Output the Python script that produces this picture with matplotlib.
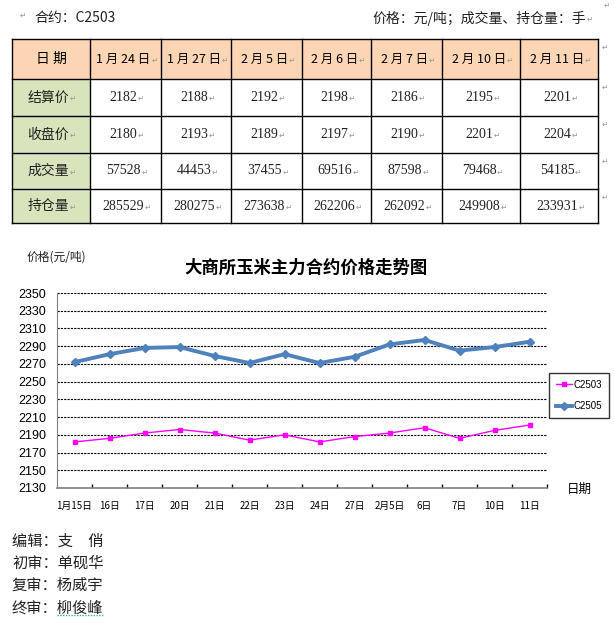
import matplotlib.pyplot as plt
from matplotlib.patches import Rectangle

plt.rcParams['font.family'] = ['Noto Sans CJK SC', 'DejaVu Sans']

# table data
tbl_dates = ['1月24日', '1月27日', '2月5日', '2月6日', '2月7日', '2月10日', '2月11日']
row_names = ['结算价', '收盘价', '成交量', '持仓量']
settle = [2182, 2188, 2192, 2198, 2186, 2195, 2201]
close = [2180, 2193, 2189, 2197, 2190, 2201, 2204]
volume = [57528, 44453, 37455, 69516, 87598, 79468, 54185]
oi = [285529, 280275, 273638, 262206, 262092, 249908, 233931]

# chart data
days = ['1月15日', '16日', '17日', '20日', '21日', '22日', '23日', '24日', '27日',
        '2月5日', '6日', '7日', '10日', '11日']
c2503 = [2182, 2186, 2192, 2196, 2192, 2184, 2190, 2182, 2188, 2192, 2198, 2186, 2195, 2201]
c2505 = [2272, 2281, 2288, 2289, 2279, 2271, 2281, 2271, 2278, 2292, 2297, 2285, 2289, 2295]
yticks = list(range(2130, 2351, 20))

W, H = 614, 624
fig = plt.figure(figsize=(W / 100, H / 100), dpi=100)

# overlay in pixel coords for table and texts
ov = fig.add_axes([0, 0, 1, 1])
ov.set_xlim(0, W)
ov.set_ylim(H, 0)
ov.axis('off')

mark = dict(color='#999999', fontsize=5.5, family=['DejaVu Sans'])
marked = []  # texts followed by a paragraph mark

ov.text(20, 15, '↵', ha='left', va='center', **mark)
ov.text(34, 18, '合约：C2503', ha='left', va='center', fontsize=10, color='#222222')
marked.append(ov.text(586, 18, '价格：元/吨；成交量、持仓量：手', ha='right', va='center',
                      fontsize=10, color='#222222'))
ov.text(604, 5, '↵', ha='left', va='center', **mark)

col_x = [12, 90, 161, 231, 302, 371, 442, 520, 598]
row_y = [39, 79, 116, 153, 189, 223]
peach = '#FCD5B4'
green = '#D7E4BC'

# header row + first column fills
ov.add_patch(Rectangle((col_x[0], row_y[0]), col_x[-1] - col_x[0], row_y[1] - row_y[0],
                       facecolor=peach, edgecolor='none'))
for i in range(1, 5):
    ov.add_patch(Rectangle((col_x[0], row_y[i]), col_x[1] - col_x[0], row_y[i + 1] - row_y[i],
                           facecolor=green, edgecolor='none'))
for x in col_x:
    ov.plot([x, x], [row_y[0], row_y[-1]], color='black', lw=1.0)
for y in row_y:
    ov.plot([col_x[0], col_x[-1]], [y, y], color='black', lw=1.0)

def cy(i):
    return (row_y[i] + row_y[i + 1]) / 2

ov.text((col_x[0] + col_x[1]) / 2, cy(0), '日 期', ha='center', va='center', fontsize=10)
for j, d in enumerate(tbl_dates):
    xc = (col_x[j + 1] + col_x[j + 2]) / 2 - 2
    s = d.replace('月', ' 月 ').replace('日', ' 日').replace('  ', ' ')
    marked.append(ov.text(xc, cy(0), s, ha='center', va='center', fontsize=9))

rows = [settle, close, volume, oi]
for i, (name, vals) in enumerate(zip(row_names, rows)):
    marked.append(ov.text((col_x[0] + col_x[1]) / 2 - 3, cy(i + 1), name, ha='center',
                          va='center', fontsize=10, color='#222222'))
    for j, v in enumerate(vals):
        xc = (col_x[j + 1] + col_x[j + 2]) / 2 - 2
        marked.append(ov.text(xc, cy(i + 1), str(v), ha='center', va='center', fontsize=10,
                              family=['Liberation Serif'], color='#222222'))
    ov.text(col_x[-1] + 4, row_y[i + 1] + 8, '↵', ha='left', va='center', **mark)
ov.text(col_x[-1] + 4, row_y[0] + 8, '↵', ha='left', va='center', **mark)

# chart titles
ov.text(27, 257, '价格(元/吨)', ha='left', va='center', fontsize=8.5, color='#222222')
ov.text(306, 268, '大商所玉米主力合约价格走势图', ha='center', va='center',
        fontsize=12.5, fontweight='bold')
ov.text(567, 489, '日期', ha='left', va='center', fontsize=9)

# footer
footer = ['编辑：支\u3000俏', '初审：单砚华', '复审：杨威宇', '终审：柳俊峰']
for k, t in enumerate(footer):
    ov.text(12, 541 + k * 22.3, t, ha='left', va='center', fontsize=11, color='#222222')
ov.plot([57, 104], [615, 615], color='#3CB371', lw=1.0, ls=(0, (1, 1)))

# line chart
ax = fig.add_axes([57 / W, 1 - 488 / H, 490 / W, 195 / H])
x = list(range(len(days)))
ax.plot(x, c2505, color='#4F81BD', lw=2.8, marker='D', ms=4.5, label='C2505', zorder=3)
ax.plot(x, c2503, color='#FF00FF', lw=1.0, marker='s', ms=3.2, label='C2503', zorder=3)
ax.set_xlim(-0.5, len(days) - 0.5)
ax.set_ylim(2130, 2350)
ax.set_yticks(yticks)
ax.set_yticklabels([str(t) for t in yticks], fontsize=9, family=['Liberation Sans'])
ax.set_xticks(x)
ax.set_xticklabels(days, fontsize=7)
ax.tick_params(axis='x', length=0, pad=9)
ax.set_xticks([i + 0.5 for i in x], minor=True)
ax.tick_params(axis='x', which='minor', direction='in', length=3, width=1)
ax.tick_params(axis='y', length=0, pad=8)
for y in yticks[1:]:
    ax.axhline(y, color='black', lw=0.8, ls=(0, (2, 1)), zorder=1)
for s in ['top', 'right']:
    ax.spines[s].set_visible(False)
ax.spines['left'].set_color('#808080')
ax.spines['bottom'].set_color('#808080')
ax.spines['bottom'].set_linewidth(1.2)

h, l = ax.get_legend_handles_labels()
leg = ax.legend(h[::-1], l[::-1], loc='upper left', bbox_to_anchor=(492 / 490, 0.59),
                prop={'family': ['Liberation Sans'], 'size': 7}, frameon=True,
                fancybox=False, handlelength=1.7, handletextpad=0.1, borderpad=0.7,
                labelspacing=1.2, borderaxespad=0)
leg.get_frame().set_edgecolor('black')
leg.get_frame().set_linewidth(1.0)

# paragraph marks right after their texts
fig.canvas.draw()
for t in marked:
    bb = t.get_window_extent()
    ov.text(bb.x1 + 0.5, H - (bb.y0 + bb.y1) / 2 + 1, '↵', ha='left', va='center', **mark)

fig.savefig('out.png', dpi=100)
